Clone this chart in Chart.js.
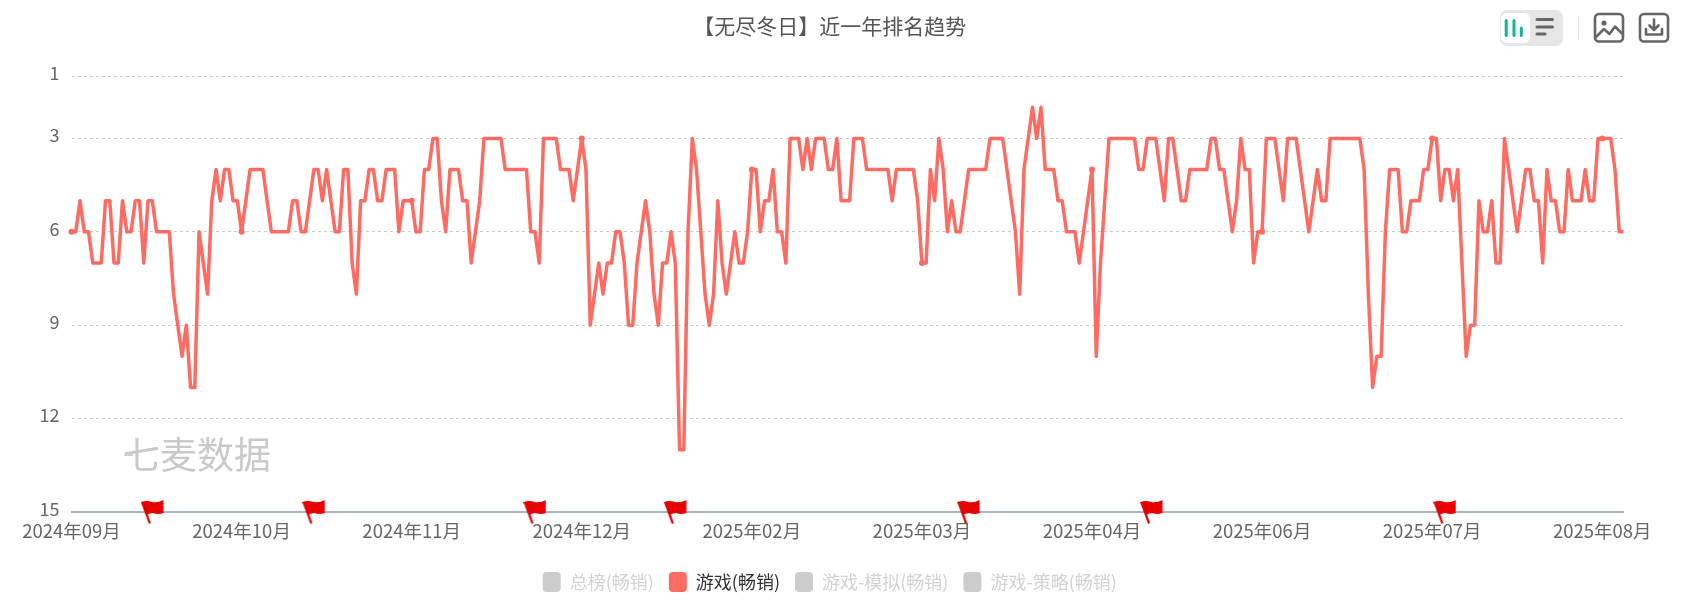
<!DOCTYPE html>
<html>
<head>
<meta charset="utf-8">
<title>无尽冬日排名趋势</title>
<script src="https://cdn.jsdelivr.net/npm/chart.js@4"></script>
<style>
  html, body { margin: 0; padding: 0; background: #fff; overflow: hidden; }
  #wrap { position: relative; width: 1683px; height: 609px; }
  #chart-box { position: absolute; left: 0; top: 0; width: 1660px; height: 609px; }
  #mark { position: absolute; left: 123px; top: 429px; font: 400 37px "Noto Sans CJK SC", sans-serif; line-height: 48px; color: #c9c9c9; pointer-events: none; }
  #mark-dash { position: absolute; left: 124px; top: 454px; width: 9px; height: 2px; background: #d0d0d0; }
  #tools { position: absolute; left: 1500px; top: 0; }
</style>
</head>
<body>
<div id="wrap">
  <div id="chart-box"><canvas id="rank-chart"></canvas></div>
  <div id="mark">七麦数据</div>
  <div id="mark-dash"></div>
  <svg id="tools" width="183" height="60" viewBox="0 0 183 60" fill="none">
    <rect x="0" y="10" width="63" height="36" rx="7" fill="#e6e6e6"/>
    <rect x="1" y="13" width="29" height="30" rx="6" fill="#fff"/>
    <g stroke="#13b593" stroke-width="3" stroke-linecap="round">
      <path d="M6.2 20.5V35.5M14 20.5V35.5M21.3 28V35.5"/>
    </g>
    <g stroke="#666" stroke-width="3" stroke-linecap="round">
      <path d="M37 19.5H52.5M37 27H52.5M37 34H45"/>
    </g>
    <path d="M78.7 16V39.5" stroke="#ddd" stroke-width="1"/>
    <g stroke="#666" stroke-width="2.6" stroke-linecap="round" stroke-linejoin="round">
      <rect x="95" y="14" width="28" height="27.5" rx="4"/>
      <path d="M96 37L104 29L109.5 34L115 26.5L122.5 34"/>
      <rect x="140" y="14" width="28" height="27.5" rx="4"/>
      <path d="M154 19.5V30M149.5 25.5L154 30L158.5 25.5M146 29V34.5H162V29"/>
    </g>
    <circle cx="104" cy="23" r="2.6" fill="#666"/>
  </svg>
</div>
<script>
// Подписи и значения графика
const tickLabels = ['2024年09月', '2024年10月', '2024年11月', '2024年12月', '2025年02月', '2025年03月', '2025年04月', '2025年06月', '2025年07月', '2025年08月'];
const yTickValues = [1, 3, 6, 9, 12, 15];
const legendNames = ['总榜(畅销)', '游戏(畅销)', '游戏-模拟(畅销)', '游戏-策略(畅销)'];
const flagIndexes = [19, 57, 109, 142, 211, 254, 323];
const rankValues = [
  6,6,5,6,6,7,7,7,5,5, 7,7,5,6,6,5,5,7,5,5, 6,6,6,6,8,9,10,9,11,11, 6,7,8,5,4,5,4,4,5,5,
  6,5,4,4,4,4,5,6,6,6, 6,6,5,5,6,6,5,4,4,5, 4,5,6,6,4,4,7,8,5,5, 4,4,5,5,4,4,4,6,5,5,
  5,6,6,4,4,3,3,5,6,4, 4,4,5,5,7,6,5,3,3,3, 3,3,4,4,4,4,4,4,6,6, 7,3,3,3,3,4,4,4,5,4,
  3,4,9,8,7,8,7,7,6,6, 7,9,9,7,6,5,6,8,9,7, 7,6,7,13,13,6,3,4,6,8, 9,8,5,7,8,7,6,7,7,6,
  4,4,6,5,5,4,6,6,7,3, 3,3,4,3,4,3,3,3,4,4, 3,5,5,5,3,3,3,4,4,4, 4,4,4,5,4,4,4,4,4,5,
  7,7,4,5,3,4,6,5,6,6, 5,4,4,4,4,4,3,3,3,3, 4,5,6,8,4,3,2,3,2,4, 4,4,5,5,6,6,6,7,6,5,
  4,10,7,5,3,3,3,3,3,3, 3,4,4,3,3,3,4,5,3,3, 4,5,5,4,4,4,4,4,3,3, 4,4,5,6,5,3,4,4,7,6,
  6,3,3,3,4,5,3,3,3,4, 5,6,5,4,5,5,3,3,3,3, 3,3,3,3,4,8,11,10,10,6, 4,4,4,6,6,5,5,5,4,4,
  3,3,5,4,4,5,4,7,10,9, 9,5,6,6,5,7,7,3,4,5, 6,5,4,4,5,5,7,4,5,5, 6,6,4,5,5,5,4,5,5,3,
  3,3,3,4,6,6
];

const tickStep = 40; // подпись и точка на каждый 40-й день
const cnFont = '"Noto Sans CJK SC", sans-serif';

// Флажок рисуем на отдельном canvas и отдаем как pointStyle
function makeFlag() {
  const c = document.createElement('canvas');
  c.width = 23;
  c.height = 24;
  const g = c.getContext('2d');
  g.fillStyle = '#e60000';
  g.beginPath();
  g.moveTo(0, 2);
  g.quadraticCurveTo(6, 0, 11, 2);
  g.quadraticCurveTo(17, 3, 22.5, 0);
  g.lineTo(22.5, 13);
  g.quadraticCurveTo(17, 15, 12, 13);
  g.quadraticCurveTo(9, 13, 7, 14.5);
  g.lineTo(10, 23);
  g.lineTo(8, 24);
  g.closePath();
  g.fill();
  return c;
}

const categories = rankValues.map((v, i) => i);
const flagData = rankValues.map((v, i) => flagIndexes.includes(i) ? 15 : null);

const config = {
  type: 'line',
  data: {
    labels: categories,
    datasets: [
      { label: legendNames[0], data: [], backgroundColor: '#cccccc', borderColor: '#cccccc' },
      {
        label: legendNames[1],
        data: rankValues,
        borderColor: '#fd6b62',
        backgroundColor: '#fd6b62',
        borderWidth: 3.5,
        borderJoinStyle: 'round',
        tension: 0,
        pointRadius: ctx => ctx.dataIndex % tickStep === 0 ? 3 : 0,
        pointBorderWidth: 0,
        pointBackgroundColor: '#fd6b62'
      },
      { label: legendNames[2], data: [], backgroundColor: '#cccccc', borderColor: '#cccccc' },
      { label: legendNames[3], data: [], backgroundColor: '#cccccc', borderColor: '#cccccc' },
      {
        label: 'flags',
        data: flagData,
        showLine: false,
        clip: false,
        pointStyle: makeFlag(),
        pointRadius: 12
      }
    ]
  },
  options: {
    responsive: false,
    animation: false,
    devicePixelRatio: 1,
    // левый отступ нужен, чтобы заголовок и легенда встали по центру как в оригинале
    layout: { padding: { left: 36, right: 36.5, top: 0, bottom: 7 } },
    plugins: {
      tooltip: { enabled: false },
      title: {
        display: true,
        text: '【无尽冬日】近一年排名趋势',
        color: '#555',
        font: { family: cnFont, size: 21, weight: 'normal' },
        padding: { top: 13, bottom: 38 }
      },
      legend: {
        position: 'bottom',
        labels: {
          boxWidth: 18,
          boxHeight: 20,
          useBorderRadius: true,
          borderRadius: 4,
          padding: 15,
          font: { family: cnFont, size: 18 },
          filter: item => item.text !== 'flags',
          generateLabels: chart => chart.data.datasets.map((d, i) => ({
            text: d.label,
            datasetIndex: i,
            fillStyle: d.backgroundColor,
            strokeStyle: d.backgroundColor,
            lineWidth: 0,
            borderRadius: 4,
            fontColor: d.data.length ? '#333' : '#d2d2d2'
          }))
        }
      }
    },
    scales: {
      x: {
        type: 'category',
        offset: false,
        grid: { display: false },
        border: { display: true, color: '#a8b2c0', width: 2 },
        afterFit: axis => { axis.height = 45; },
        ticks: {
          autoSkip: false,
          maxRotation: 0,
          padding: 0,
          color: '#666',
          font: { family: cnFont, size: 18.5 },
          callback: (val, i) => i % tickStep === 0 ? tickLabels[i / tickStep] : ''
        }
      },
      y: {
        reverse: true,
        min: 1,
        max: 15,
        afterBuildTicks: axis => { axis.ticks = yTickValues.map(v => ({ value: v })); },
        afterFit: axis => { axis.width = 35.5; },
        border: { display: false, dash: [3, 3] },
        grid: {
          drawTicks: false,
          color: ctx => ctx.tick.value === 15 ? 'transparent' : '#cccccc',
          lineWidth: 1
        },
        ticks: {
          padding: 12,
          labelOffset: -3,
          color: '#666',
          font: { family: cnFont, size: 18 }
        }
      }
    }
  }
};

const canvas = document.getElementById('rank-chart');
canvas.width = 1660;
canvas.height = 609;
new Chart(canvas, config);
</script>
</body>
</html>
